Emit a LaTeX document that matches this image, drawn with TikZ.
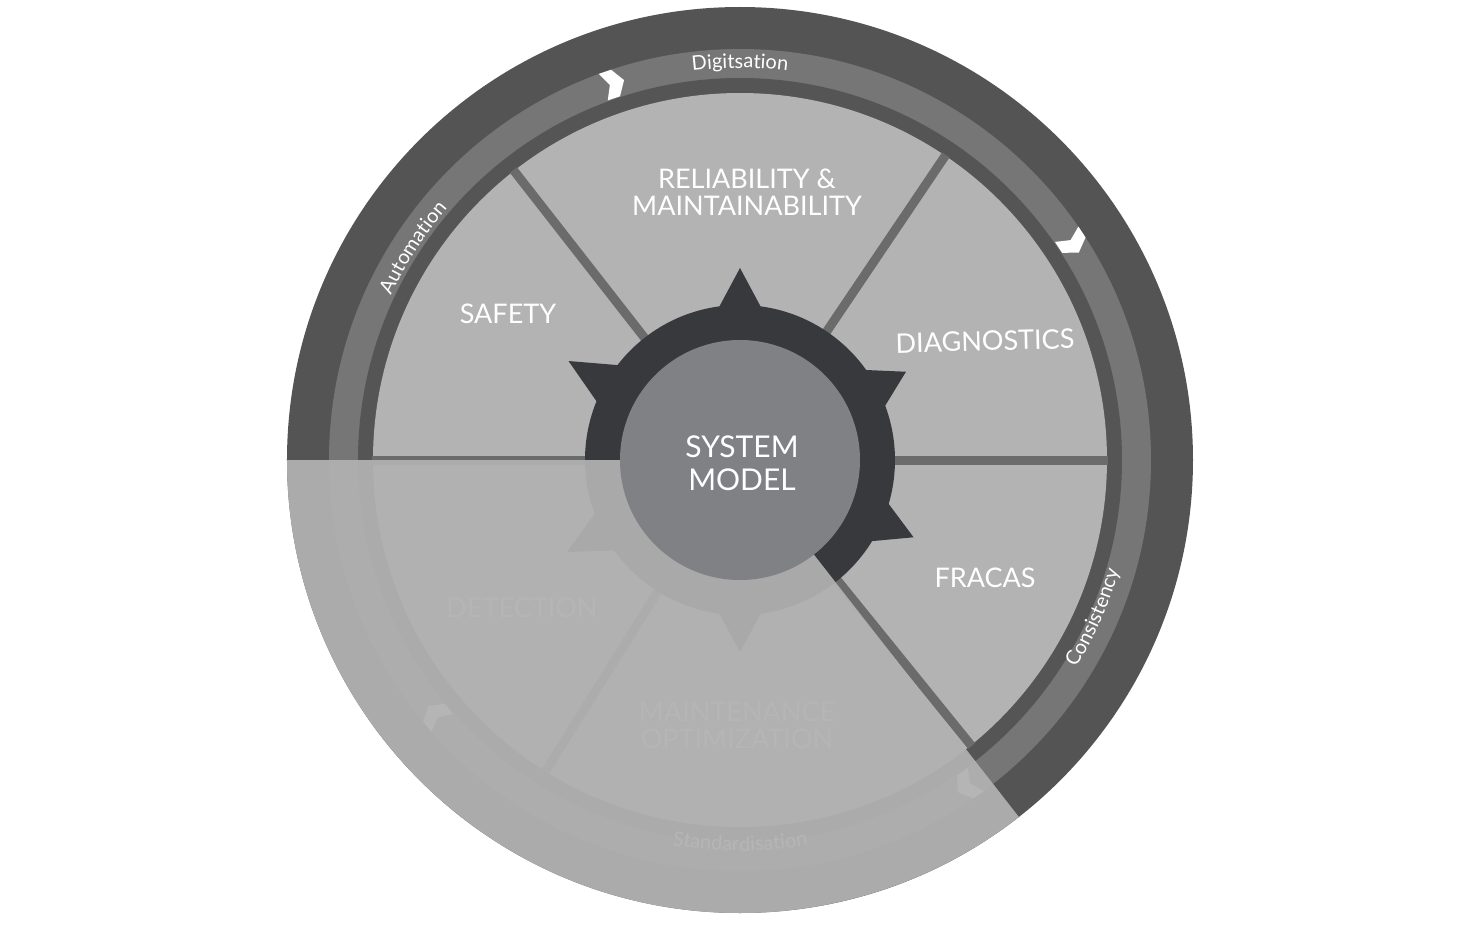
\documentclass[tikz,border=0pt]{standalone}
\usepackage{fontspec}
\setmainfont{Lato}
\usetikzlibrary{decorations.text}

\definecolor{rimdark}{HTML}{545454}
\definecolor{rimband}{HTML}{767676}
\definecolor{rimin}{HTML}{555555}
\definecolor{segfill}{HTML}{B3B3B3}
\definecolor{divline}{HTML}{6B6B6B}
\definecolor{geardark}{HTML}{38393C}
\definecolor{hubfill}{HTML}{808185}
\definecolor{veil}{HTML}{B1B1B1}

\begin{document}
\begin{tikzpicture}[x=1pt,y=1pt]
  \tikzset{
    seglabel/.style={text=white,align=center,inner sep=0pt,font=\fontsize{27}{27}\selectfont},
    hublabel/.style={text=white,align=center,inner sep=0pt,font=\fontsize{30}{33}\selectfont},
    bandtext/.style={decorate,decoration={text along path,text align=center,text color=white,
        text={|\fontsize{20}{22}\selectfont|#1}}},
    spoke/.style={draw=divline,line width=9pt}
  }
  \useasboundingbox (-740,-470) rectangle (735,460);

%%%%%%%%%%%%%%%%%%%%%%%%%%
% rings
  \fill[rimdark] (0,0) circle[radius=453];
  \fill[rimband] (0,0) circle[radius=411];
  \fill[rimin] (0,0) circle[radius=382];
  \fill[segfill] (0,0) circle[radius=367];

% spokes
  \foreach \a in {0,56,128,180,238,-51}
    \draw[spoke] (0,0) -- (\a:368);

%%%%%%%%%%%%%%%%%%%%%%%%%%
% chevrons on the band
  \foreach \a in {108.7,33.2,220,-55}{
    \begin{scope}[shift={(\a:397)},rotate=\a-90]
      \fill[white] (-10,14) -- (3,14) -- (12,0) -- (3,-14) -- (-10,-14) -- (-3,0) -- cycle;
    \end{scope}
  }

% band texts
  \path[bandtext=Digitsation] (105:392) arc[start angle=105,end angle=75,radius=392];
  \path[bandtext=Automation] (164:386) arc[start angle=164,end angle=130,radius=386];
  \path[bandtext=Consistency] (-42:395) arc[start angle=-42,end angle=-6,radius=395];
  \path[bandtext=Standardisation] (-112:391) arc[start angle=-112,end angle=-68,radius=391];

%%%%%%%%%%%%%%%%%%%%%%%%%%
% segment labels
  \node[seglabel] (NReliability) at (7,268) {RELIABILITY \&\\MAINTAINABILITY};
  \node[seglabel] (NSafety) at (-232,146) {SAFETY};
  \node[seglabel,rotate=1.5] (NDiagnostics) at (245,119) {DIAGNOSTICS};
  \node[seglabel] (NFracas) at (245,-118) {FRACAS};
  \node[seglabel] (NDetection) at (-218,-148) {DETECTION};
  \node[seglabel] (NMaintenance) at (-3,-265) {MAINTENANCE\\OPTIMIZATION};

%%%%%%%%%%%%%%%%%%%%%%%%%%
% gear
  \foreach \a/\r in {90/192,150/198,28/188,-24/190,-90/192,-152/196}
    \fill[geardark] (\a+9:150) -- (\a:\r) -- (\a-9:150) -- cycle;
  \fill[geardark] (0,0) circle[radius=155];

%%%%%%%%%%%%%%%%%%%%%%%%%%
% veil over the lower part
  \fill[veil,opacity=0.94] (0,0) -- (180:453) arc[start angle=180,end angle=308,radius=453] -- cycle;

% hub
  \fill[hubfill] (0,0) circle[radius=120];
  \node[hublabel] (NSystem) at (2,-3) {SYSTEM\\MODEL};

\end{tikzpicture}
\end{document}
